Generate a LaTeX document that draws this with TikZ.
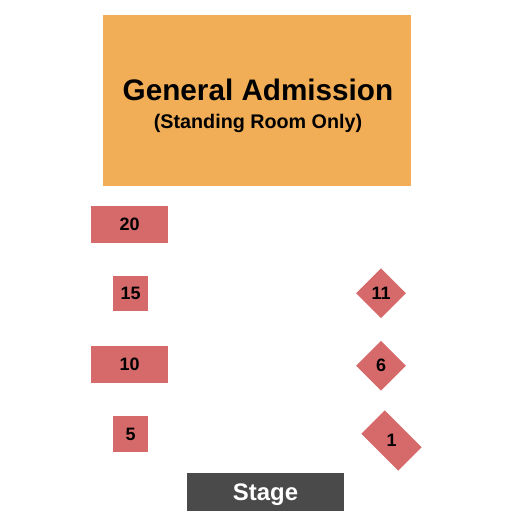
\documentclass[tikz,border=0pt]{standalone}
\usepackage{fontspec}
\setmainfont{Liberation Sans}
\usetikzlibrary{shapes.geometric}
\definecolor{seatred}{RGB}{214,106,106}
\definecolor{gaorange}{RGB}{241,174,86}
\definecolor{stagegray}{RGB}{74,74,74}
\tikzset{
  seatbox/.style={rectangle,fill=seatred,draw=none,inner sep=0pt},
  seatdia/.style={diamond,fill=seatred,draw=none,inner sep=0pt,minimum width=50bp,minimum height=50bp},
  seatlbl/.style={font=\fontsize{18}{18}\selectfont\bfseries,text=black,inner sep=0pt},
}
\begin{document}
\begin{tikzpicture}[x=1bp,y=1bp]
\useasboundingbox (0,0) rectangle (525,525);
% General admission
\node[rectangle,fill=gaorange,inner sep=0pt,minimum width=308bp,minimum height=171bp] (ga) at (257,424.5) {};
\node[anchor=base,inner sep=0pt,font=\fontsize{29.8}{30}\selectfont\bfseries] (gat) at (258,424) {General Admission};
\node[anchor=base,inner sep=0pt,font=\fontsize{19.8}{20}\selectfont\bfseries] (gas) at (258,396.5) {(Standing Room Only)};
% left tables
\node[seatbox,minimum width=77bp,minimum height=37bp] (s20) at (129.5,300.5) {};
\node[seatlbl] at (s20) {20};
\node[seatbox,minimum width=35bp,minimum height=35bp] (s15) at (130.5,231.5) {};
\node[seatlbl] at (s15) {15};
\node[seatbox,minimum width=77bp,minimum height=37bp] (s10) at (129.5,160.5) {};
\node[seatlbl] at (s10) {10};
\node[seatbox,minimum width=35bp,minimum height=36bp] (s5) at (130.5,91) {};
\node[seatlbl] at (s5) {5};
% right tables
\node[seatdia] (s11) at (381,231.7) {};
\node[seatlbl] at (s11) {11};
\node[seatdia] (s6) at (381,159.3) {};
\node[seatlbl] at (s6) {6};
\node[seatbox,minimum width=52bp,minimum height=33bp,rotate=-45] (s1) at (391.5,84.5) {};
\node[seatlbl] at (s1) {1};
% stage
\node[rectangle,fill=stagegray,inner sep=0pt,minimum width=157bp,minimum height=38bp] (stage) at (265.5,33) {};
\node[anchor=base,font=\fontsize{24}{24}\selectfont\bfseries,text=white,inner sep=0pt] at ([yshift=-9bp]stage.center) {Stage};
\end{tikzpicture}
\end{document}
